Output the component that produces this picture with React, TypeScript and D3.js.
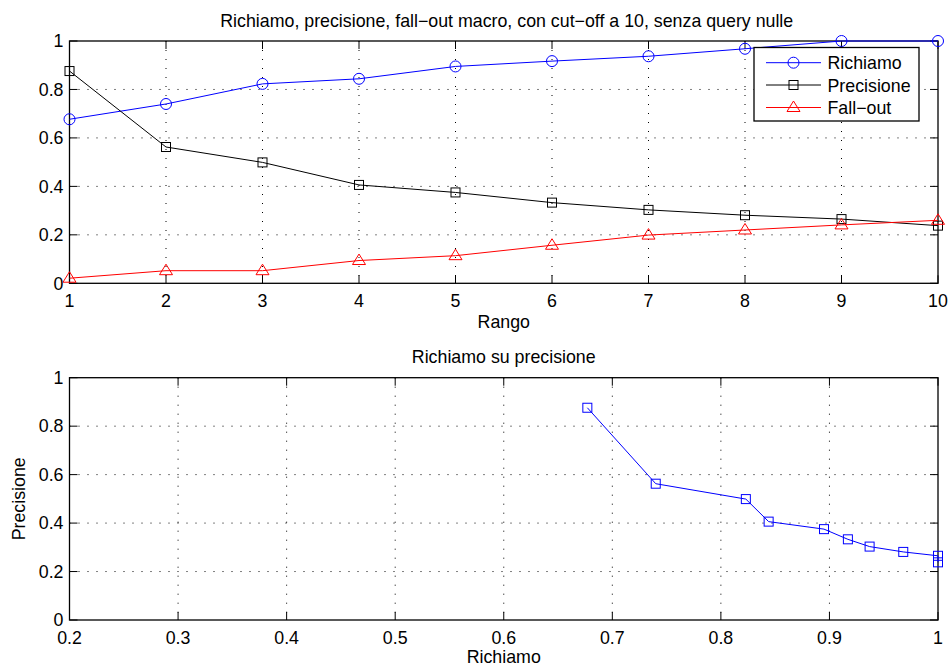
import React, { useEffect, useRef } from 'react';
import * as d3 from 'd3';

// values
const ranks = [1, 2, 3, 4, 5, 6, 7, 8, 9, 10];
const recall = [0.677, 0.74, 0.823, 0.844, 0.895, 0.917, 0.937, 0.968, 1.0, 1.0];
const precision = [0.876, 0.5625, 0.499, 0.406, 0.375, 0.333, 0.303, 0.281, 0.265, 0.238];
const fallout = [0.021, 0.052, 0.052, 0.094, 0.114, 0.157, 0.199, 0.22, 0.241, 0.26];

const yTicks = [0, 0.2, 0.4, 0.6, 0.8, 1];
const recallTicks = [0.2, 0.3, 0.4, 0.5, 0.6, 0.7, 0.8, 0.9, 1];

const seriesNames = ['Richiamo', 'Precisione', 'Fall−out'];
const seriesColors = ['#0000ff', '#000000', '#ff0000'];
const seriesMarkers = ['circle', 'square', 'triangle'];

const FONT = '"Liberation Sans", Arial, Helvetica, sans-serif';
const FS = 17.8;

const drawMarker = (g: any, type: string, x: number, y: number, color: string) => {
  if (type === 'circle') {
    g.append('circle').attr('cx', x).attr('cy', y).attr('r', 5.5)
      .attr('fill', 'none').attr('stroke', color).attr('stroke-width', 1);
  } else if (type === 'square') {
    g.append('rect').attr('x', x - 4.5).attr('y', y - 4.5).attr('width', 9).attr('height', 9)
      .attr('fill', 'none').attr('stroke', color).attr('stroke-width', 1);
  } else {
    g.append('path')
      .attr('d', `M${x},${y - 6.5}L${x + 6.5},${y + 4}L${x - 6.5},${y + 4}Z`)
      .attr('fill', 'none').attr('stroke', color).attr('stroke-width', 1);
  }
};

// MATLAB-like axes: box, inward ticks on all sides, dotted grid
const drawAxes = (svg: any, x: any, y: any, xTicks: number[], xFmt: (d: number) => string) => {
  const [x0, x1] = x.range();
  const [y0, y1] = y.range(); // y0 bottom, y1 top
  const g = svg.append('g');
  const tick = 8;

  xTicks.forEach((t) => {
    const px = x(t);
    if (px > x0 + 1 && px < x1 - 1) {
      g.append('line').attr('x1', px).attr('x2', px).attr('y1', y1).attr('y2', y0)
        .attr('stroke', '#000').attr('stroke-dasharray', '1,8').attr('stroke-width', 1);
    }
    g.append('line').attr('x1', px).attr('x2', px).attr('y1', y0).attr('y2', y0 - tick).attr('stroke', '#000');
    g.append('line').attr('x1', px).attr('x2', px).attr('y1', y1).attr('y2', y1 + tick).attr('stroke', '#000');
    g.append('text').attr('x', px).attr('y', y0 + 23.5).attr('text-anchor', 'middle')
      .attr('font-family', FONT).attr('font-size', FS).text(xFmt(t));
  });

  yTicks.forEach((t) => {
    const py = y(t);
    if (py < y0 - 1 && py > y1 + 1) {
      g.append('line').attr('x1', x0).attr('x2', x1).attr('y1', py).attr('y2', py)
        .attr('stroke', '#000').attr('stroke-dasharray', '1,8').attr('stroke-width', 1);
    }
    g.append('line').attr('x1', x0).attr('x2', x0 + tick).attr('y1', py).attr('y2', py).attr('stroke', '#000');
    g.append('line').attr('x1', x1).attr('x2', x1 - tick).attr('y1', py).attr('y2', py).attr('stroke', '#000');
    g.append('text').attr('x', x0 - 6).attr('y', py + 6.3).attr('text-anchor', 'end')
      .attr('font-family', FONT).attr('font-size', FS).text(String(t));
  });

  g.append('rect').attr('x', x0).attr('y', y1).attr('width', x1 - x0).attr('height', y0 - y1)
    .attr('fill', 'none').attr('stroke', '#000').attr('stroke-width', 1.3);
};

const App = () => {
  const ref = useRef<SVGSVGElement>(null);

  useEffect(() => {
    const svg = d3.select(ref.current);
    svg.selectAll('*').remove();

    const left = 69.5;
    const right = 938;

    // ---- top chart
    const x = d3.scaleLinear().domain([1, 10]).range([left, right]);
    const y = d3.scaleLinear().domain([0, 1]).range([283.3, 41]);

    svg.append('rect').attr('width', 950).attr('height', 671).attr('fill', '#fff');
    drawAxes(svg, x, y, ranks, (d) => String(d));

    const all = [recall, precision, fallout];
    all.forEach((vals, i) => {
      const pts = vals.map((v, j) => [x(ranks[j]), y(v)] as [number, number]);
      svg.append('path').attr('d', d3.line()(pts)).attr('fill', 'none')
        .attr('stroke', seriesColors[i]).attr('stroke-width', 1);
      const mg = svg.append('g');
      pts.forEach(([px, py]) => drawMarker(mg, seriesMarkers[i], px, py, seriesColors[i]));
    });

    svg.append('text').attr('x', (left + right) / 2 + 3).attr('y', 27).attr('text-anchor', 'middle')
      .attr('font-family', FONT).attr('font-size', FS)
      .text('Richiamo, precisione, fall−out macro, con cut−off a 10, senza query nulle');
    svg.append('text').attr('x', (left + right) / 2).attr('y', 328).attr('text-anchor', 'middle')
      .attr('font-family', FONT).attr('font-size', FS).text('Rango');

    // legend
    const lg = svg.append('g');
    lg.append('rect').attr('x', 754).attr('y', 47.5).attr('width', 165).attr('height', 73.5)
      .attr('fill', '#fff').attr('stroke', '#000').attr('stroke-width', 1.3);
    const rowY = [62.7, 85, 107.5];
    seriesNames.forEach((name, i) => {
      lg.append('line').attr('x1', 766).attr('x2', 821).attr('y1', rowY[i]).attr('y2', rowY[i])
        .attr('stroke', seriesColors[i]).attr('stroke-width', 1);
      drawMarker(lg, seriesMarkers[i], 793.5, rowY[i], seriesColors[i]);
      lg.append('text').attr('x', 827.5).attr('y', rowY[i] + 6.5)
        .attr('font-family', FONT).attr('font-size', FS).text(name);
    });

    // ---- bottom chart
    const x2 = d3.scaleLinear().domain([0.2, 1]).range([left, right]);
    const y2 = d3.scaleLinear().domain([0, 1]).range([620, 377.7]);
    drawAxes(svg, x2, y2, recallTicks, (d) => String(+d.toFixed(1)));

    const pts2 = recall.map((r, j) => [x2(r), y2(precision[j])] as [number, number]);
    svg.append('path').attr('d', d3.line()(pts2)).attr('fill', 'none')
      .attr('stroke', '#0000ff').attr('stroke-width', 1);
    const mg2 = svg.append('g');
    pts2.forEach(([px, py]) => drawMarker(mg2, 'square', px, py, '#0000ff'));

    svg.append('text').attr('x', (left + right) / 2).attr('y', 363).attr('text-anchor', 'middle')
      .attr('font-family', FONT).attr('font-size', FS).text('Richiamo su precisione');
    svg.append('text').attr('x', (left + right) / 2).attr('y', 663).attr('text-anchor', 'middle')
      .attr('font-family', FONT).attr('font-size', FS).text('Richiamo');
    svg.append('text').attr('transform', `translate(25, ${(620 + 377.7) / 2}) rotate(-90)`)
      .attr('text-anchor', 'middle')
      .attr('font-family', FONT).attr('font-size', FS).text('Precisione');
  }, []);

  return (
    <svg ref={ref} width={950} height={671}
      style={{ position: 'absolute', left: 0, top: 0, display: 'block' }} />
  );
};

export default App;
